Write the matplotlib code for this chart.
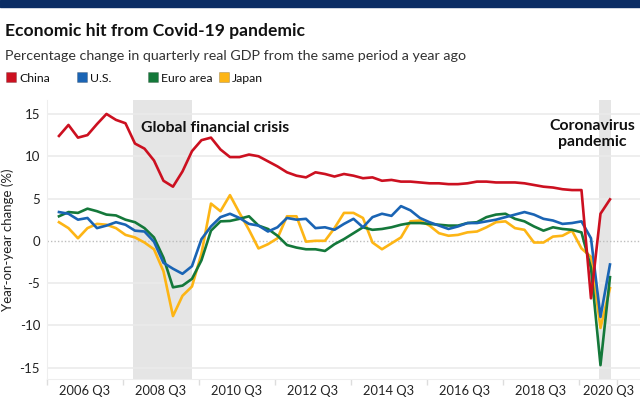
import matplotlib.pyplot as plt
from matplotlib.patches import Rectangle

plt.rcParams['font.family'] = ['Lato', 'DejaVu Sans']

# quarterly, 2006 Q1 .. 2020 Q3
quarters = [f"{y} Q{q}" for y in range(2006, 2021) for q in range(1, 5)][:59]

china = [12.4, 13.7, 12.2, 12.5, 13.8, 15.0, 14.3, 13.9, 11.5, 10.9, 9.5, 7.1,
         6.4, 8.2, 10.6, 11.9, 12.2, 10.8, 9.9, 9.9, 10.2, 10.0, 9.4, 8.8,
         8.1, 7.7, 7.5, 8.1, 7.9, 7.6, 7.9, 7.7, 7.4, 7.5, 7.1, 7.2,
         7.0, 7.0, 6.9, 6.8, 6.8, 6.7, 6.7, 6.8, 7.0, 7.0, 6.9, 6.9,
         6.9, 6.8, 6.6, 6.4, 6.3, 6.1, 6.0, 6.0, -6.8, 3.2, 4.9]
us = [3.4, 3.2, 2.5, 2.7, 1.5, 1.8, 2.2, 1.9, 1.2, 1.1, -0.1, -2.6,
      -3.3, -3.9, -3.0, 0.2, 1.7, 2.8, 3.2, 2.7, 2.0, 1.8, 1.1, 1.6,
      2.7, 2.5, 2.6, 1.5, 1.6, 1.3, 2.0, 2.6, 1.6, 2.8, 3.2, 2.95,
      4.1, 3.6, 2.7, 2.2, 1.8, 1.4, 1.7, 2.1, 2.1, 2.3, 2.5, 2.8,
      3.1, 3.4, 3.1, 2.6, 2.4, 2.0, 2.1, 2.3, 0.3, -9.0, -2.8]
euro = [2.9, 3.4, 3.3, 3.8, 3.5, 3.1, 3.0, 2.5, 2.2, 1.5, 0.4, -2.0,
        -5.5, -5.3, -4.5, -2.3, 1.2, 2.3, 2.35, 2.6, 2.9, 1.8, 1.4, 0.6,
        -0.5, -0.8, -1.0, -1.0, -1.2, -0.4, 0.2, 0.9, 1.6, 1.3, 1.4, 1.6,
        1.9, 2.1, 2.1, 2.0, 1.9, 1.8, 1.8, 2.1, 2.2, 2.8, 3.1, 3.2,
        2.6, 2.3, 1.7, 1.2, 1.6, 1.4, 1.3, 1.0, -3.2, -14.7, -4.3]
japan = [2.2, 1.5, 0.3, 1.5, 2.0, 1.9, 1.5, 0.7, 0.4, -0.2, -1.0, -3.6,
         -8.9, -6.5, -5.4, -1.5, 4.4, 3.5, 5.4, 3.3, 1.3, -0.9, -0.4, 0.3,
         2.9, 2.9, -0.1, 0.0, 0.0, 1.5, 3.3, 3.3, 2.7, -0.2, -1.0, -0.3,
         0.4, 2.3, 2.4, 1.8, 0.9, 0.6, 0.7, 1.0, 1.1, 1.6, 2.2, 2.3,
         1.5, 1.3, -0.2, -0.2, 0.5, 0.6, 1.2, -0.9, -1.9, -10.3, -5.6]

names = ["China", "U.S.", "Euro area", "Japan"]
colors = ["#cc1020", "#1a64b4", "#14783a", "#fdb515"]
tick_labels = ["2006 Q3", "2008 Q3", "2010 Q3", "2012 Q3", "2014 Q3",
               "2016 Q3", "2018 Q3", "2020 Q3"]
y_ticks = [-15, -10, -5, 0, 5, 10, 15]

fig = plt.figure(figsize=(6.4, 4), dpi=100)
fig.patches.append(Rectangle((0, 1 - 7 / 400), 1, 7 / 400, transform=fig.transFigure,
                             color="#0b2d64", zorder=0))

fig.text(5 / 640, 1 - 36 / 400, "Economic hit from Covid-19 pandemic",
         fontsize=12.6, fontweight="bold", color="#111111")
fig.text(5 / 640, 1 - 59.5 / 400,
         "Percentage change in quarterly real GDP from the same period a year ago",
         fontsize=10.3, color="#333333")
for k, (nm, c) in enumerate(zip(names, colors)):
    x0 = (6 + 71 * k) / 640
    fig.patches.append(Rectangle((x0, 1 - 82 / 400), 10 / 640, 10 / 400,
                                 transform=fig.transFigure, facecolor=c,
                                 edgecolor="#00000040", lw=0.5))
    fig.text(x0 + 13 / 640, 1 - 81.5 / 400, nm, fontsize=8.8, color="#111111")

ax = fig.add_axes([47 / 640, 21 / 400, 593 / 640, 279 / 400])
x = list(range(len(quarters)))

ax.axvspan(7.8, 14.0, color="#e5e5e5", lw=0, zorder=0)
ax.axvspan(56.8, 58.1, color="#e5e5e5", lw=0, zorder=0)

for yt in y_ticks:
    if yt == 0:
        ax.axhline(0, color="#bdbdbd", lw=1.0, ls=(0, (1, 1.5)), zorder=1)
    else:
        ax.axhline(yt, color="#ebebeb", lw=1.2, zorder=1)

for vals, c in zip([japan, euro, us, china], colors[::-1]):
    ax.plot(x, vals, color=c, lw=1.9, zorder=3)

ax.set_xlim(-1.26, 61.16)
ax.set_ylim(-16.34, 16.65)

ax.set_yticks(y_ticks)
ax.set_yticklabels([str(v) for v in y_ticks], fontsize=9.5, color="#222222")
ax.tick_params(axis="y", length=0, pad=5)

pos = [quarters.index(t) + 0.74 for t in tick_labels[:-1]] + [quarters.index(tick_labels[-1]) - 0.1]
ax.set_xticks(pos)
ax.set_xticklabels(tick_labels, fontsize=9.3, color="#222222")
ax.set_xticks([-1.26 + 8 * k for k in range(8)] + [58.7], minor=True)
ax.tick_params(axis="x", which="major", length=0, pad=4)
ax.tick_params(axis="x", which="minor", length=4, color="#dddddd", width=1)

for s in ["top", "right"]:
    ax.spines[s].set_visible(False)
ax.spines["left"].set_color("#eeeeee")
ax.spines["bottom"].set_color("#eeeeee")

ax.set_ylabel("Year-on-year change (%)", fontsize=9.5, color="#222222", labelpad=4)

ax.text(16.4, 13.3, "Global financial crisis", fontsize=11.4, fontweight="bold",
        ha="center", va="center", color="#111111")
ax.text(56.1, 12.6, "Coronavirus\npandemic", fontsize=11.4, fontweight="bold",
        ha="center", va="center", color="#111111", linespacing=1.15)

fig.savefig("out.png", dpi=100)
